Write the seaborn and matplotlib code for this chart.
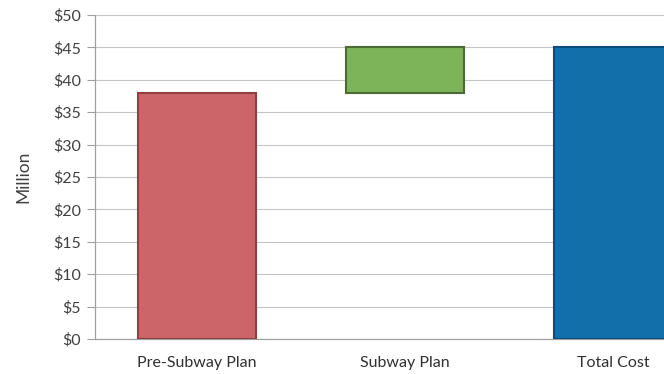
import matplotlib
matplotlib.use("Agg")
import matplotlib.pyplot as plt
import seaborn as sns

# Waterfall of project cost (in $ million)
categories = ["Pre-Subway Plan", "Subway Plan", "Total Cost"]
bar_bottoms = [0, 38, 0]
bar_heights = [38, 7, 45]
fill_colors = ["#CB6569", "#7DB45A", "#136FAA"]
edge_colors = ["#8E3F42", "#4C6A36", "#0B4C7C"]
y_ticks = [0, 5, 10, 15, 20, 25, 30, 35, 40, 45, 50]
y_tick_labels = ["$0", "$5", "$10", "$15", "$20", "$25", "$30", "$35", "$40", "$45", "$50"]

sns.set_theme(style="white")
plt.rcParams["font.family"] = ["Lato", "DejaVu Sans"]

fig = plt.figure(figsize=(6.64, 3.74), dpi=100)
ax = fig.add_axes([95 / 664, 35 / 374, 1 - 95 / 664, 324 / 374])

for cat, base, h, fc, ec in zip(categories, bar_bottoms, bar_heights, fill_colors, edge_colors):
    sns.barplot(x=[cat], y=[h], order=categories, bottom=base, color=fc,
                saturation=1, width=0.57, edgecolor=ec, linewidth=1.5, ax=ax, zorder=3)

ax.set_xlim(-0.49, 2.245)
ax.set_ylim(0, 50)
ax.set_yticks(y_ticks)
ax.set_yticklabels(y_tick_labels)
ax.yaxis.grid(True, color="#c4c4c4", linewidth=0.8, zorder=0)
ax.set_axisbelow(True)

for side in ["top", "right"]:
    ax.spines[side].set_visible(False)
for side in ["left", "bottom"]:
    ax.spines[side].set_color("#a0a0a0")
    ax.spines[side].set_linewidth(0.9)

ax.tick_params(axis="y", which="both", left=True, length=6, width=0.8,
               color="#a0a0a0", labelsize=11.5, labelcolor="#404040", pad=4)
ax.tick_params(axis="x", bottom=False, labelsize=11.5, labelcolor="#303030", pad=6)
ax.set_xlabel("")
ax.set_ylabel("Million", fontsize=12.5, color="#404040", labelpad=16)

fig.savefig("out.png", dpi=100)
